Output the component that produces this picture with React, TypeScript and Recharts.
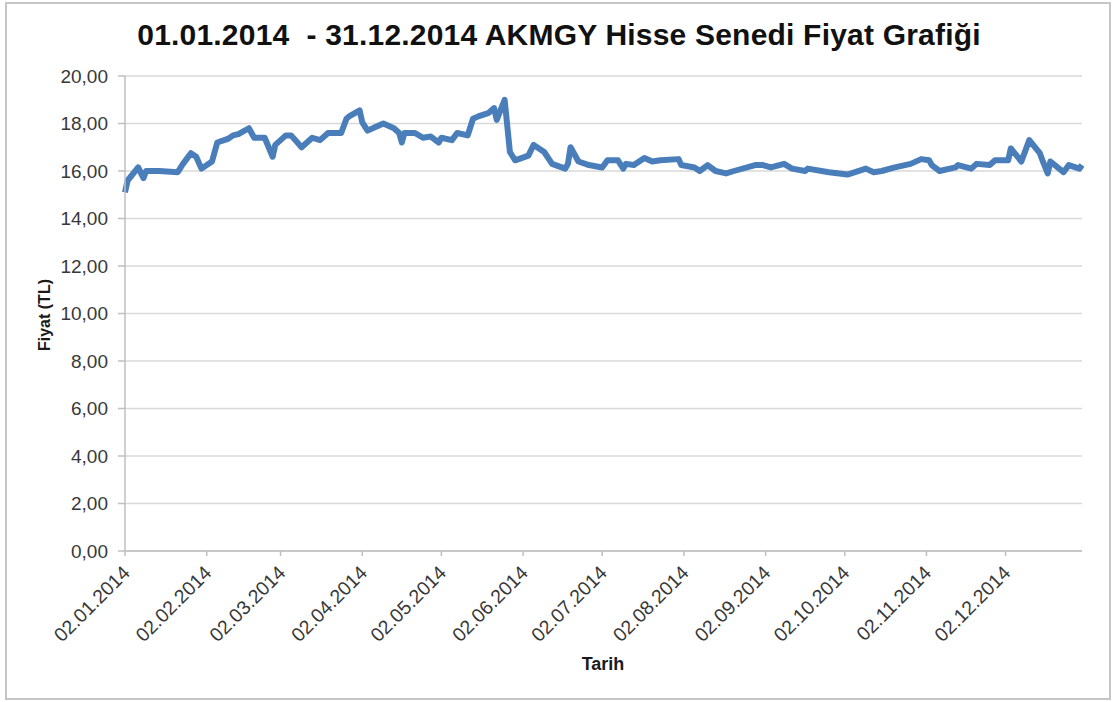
import { CartesianGrid, Line, LineChart, XAxis, YAxis } from "recharts";

// closing prices (dd.mm, 2014)
const dates = [
  "02.01", "03.01", "07.01", "09.01", "10.01", "15.01", "22.01", "24.01", "27.01", "29.01",
  "31.01", "04.02", "06.02", "10.02", "12.02", "14.02", "18.02", "20.02", "24.02", "27.02",
  "28.02", "04.03", "06.03", "10.03", "14.03", "17.03", "20.03", "25.03", "27.03", "28.03",
  "01.04", "02.04", "04.04", "07.04", "10.04", "14.04", "16.04", "17.04", "18.04", "22.04",
  "25.04", "28.04", "01.05", "02.05", "06.05", "08.05", "12.05", "14.05", "16.05", "20.05",
  "22.05", "23.05", "26.05", "28.05", "30.05", "04.06", "06.06", "10.06", "13.06", "18.06",
  "19.06", "20.06", "23.06", "27.06", "02.07", "04.07", "08.07", "10.07", "11.07", "14.07",
  "18.07", "21.07", "24.07", "31.07", "01.08", "06.08", "08.08", "11.08", "14.08", "18.08",
  "21.08", "29.08", "01.09", "04.09", "09.09", "12.09", "17.09", "18.09", "26.09", "03.10",
  "10.10", "13.10", "16.10", "21.10", "27.10", "31.10", "03.11", "04.11", "07.11", "13.11",
  "14.11", "19.11", "21.11", "26.11", "28.11", "03.12", "04.12", "08.12", "11.12", "15.12",
  "16.12", "18.12", "19.12", "24.12", "26.12", "30.12", "31.12",
];

const prices = [
  15.1, 15.6, 16.15, 15.7, 16.0, 16.0, 15.95, 16.3, 16.75, 16.6,
  16.1, 16.4, 17.2, 17.35, 17.5, 17.55, 17.8, 17.4, 17.4, 16.6,
  17.1, 17.5, 17.5, 17.0, 17.4, 17.3, 17.6, 17.6, 18.2, 18.3,
  18.55, 18.05, 17.7, 17.85, 18.0, 17.8, 17.6, 17.2, 17.6, 17.6,
  17.4, 17.45, 17.2, 17.4, 17.3, 17.6, 17.5, 18.2, 18.3, 18.45,
  18.65, 18.15, 19.0, 16.8, 16.45, 16.65, 17.1, 16.8, 16.3, 16.1,
  16.3, 17.0, 16.4, 16.25, 16.15, 16.45, 16.45, 16.1, 16.3, 16.25,
  16.55, 16.4, 16.45, 16.5, 16.25, 16.15, 16.0, 16.25, 16.0, 15.9,
  16.0, 16.25, 16.25, 16.15, 16.3, 16.1, 16.0, 16.1, 15.95, 15.85,
  16.1, 15.95, 16.0, 16.15, 16.3, 16.5, 16.45, 16.25, 16.0, 16.15,
  16.25, 16.1, 16.3, 16.25, 16.45, 16.45, 16.95, 16.4, 17.3, 16.75,
  16.45, 15.9, 16.4, 15.95, 16.25, 16.1, 16.25,
];

const tickDates = [
  "02.01", "02.02", "02.03", "02.04", "02.05", "02.06",
  "02.07", "02.08", "02.09", "02.10", "02.11", "02.12",
];

const yTicks = [0, 2, 4, 6, 8, 10, 12, 14, 16, 18, 20];

const DAY = 86400000;
const START = Date.UTC(2014, 0, 2);

const toDay = (s: string) => {
  const [d, m] = s.split(".").map(Number);
  return (Date.UTC(2014, m - 1, d) - START) / DAY;
};

const fromDay = (n: number) => {
  const dt = new Date(START + n * DAY);
  const dd = String(dt.getUTCDate()).padStart(2, "0");
  const mm = String(dt.getUTCMonth() + 1).padStart(2, "0");
  return `${dd}.${mm}.2014`;
};

const data = dates.map((d, i) => ({ day: toDay(d), price: prices[i] }));
const xTicks = tickDates.map(toDay);

const DateTick = ({ x, y, payload }: any) => (
  <g transform={`translate(${x - 1},${y + 9})`}>
    <text
      x={0}
      y={0}
      dy={10}
      textAnchor="end"
      transform="rotate(-45)"
      fill="#383838"
      fontSize={19.5}
      fontFamily="Liberation Sans, Arial, sans-serif"
    >
      {fromDay(payload.value)}
    </text>
  </g>
);

const App = () => {
  return (
    <div
      style={{
        position: "absolute",
        left: 0,
        top: 0,
        width: 1115,
        height: 702,
        background: "#fff",
        fontFamily: "Liberation Sans, Arial, sans-serif",
      }}
    >
      <div
        style={{
          position: "absolute",
          left: 5,
          top: 2,
          width: 1102,
          height: 694,
          border: "2px solid #c6c6c6",
        }}
      />
      <div
        style={{
          position: "absolute",
          left: 0,
          top: 18,
          width: 1118,
          textAlign: "center",
          fontSize: 30,
          fontWeight: "bold",
          color: "#111",
          letterSpacing: 0.2,
          whiteSpace: "pre",
        }}
      >
        {"01.01.2014  - 31.12.2014 AKMGY Hisse Senedi Fiyat Grafiği"}
      </div>
      <div
        style={{
          position: "absolute",
          left: 45 - 100,
          top: 315 - 10,
          width: 200,
          height: 20,
          lineHeight: "20px",
          textAlign: "center",
          transform: "rotate(-90deg)",
          fontSize: 16,
          fontWeight: "bold",
          color: "#1a1a1a",
        }}
      >
        Fiyat (TL)
      </div>
      <div
        style={{
          position: "absolute",
          left: 503,
          top: 654,
          width: 200,
          textAlign: "center",
          fontSize: 18,
          fontWeight: "bold",
          color: "#1a1a1a",
        }}
      >
        Tarih
      </div>
      <div style={{ position: "absolute", left: 0, top: 0 }}>
        <LineChart
          width={1115}
          height={702}
          data={data}
          margin={{ top: 76, right: 33, left: 0, bottom: 0 }}
        >
          <CartesianGrid vertical={false} stroke="#d9d9d9" strokeWidth={1.5} />
          <XAxis
            dataKey="day"
            type="number"
            domain={[0, 363]}
            ticks={xTicks}
            interval={0}
            height={151}
            tick={<DateTick />}
            tickSize={5}
            stroke="#bfbfbf"
            strokeWidth={1.5}
          />
          <YAxis
            domain={[0, 20]}
            ticks={yTicks}
            interval={0}
            width={125}
            tickSize={7}
            tickMargin={10}
            stroke="#bfbfbf"
            strokeWidth={1.5}
            tick={{ fill: "#383838", fontSize: 19 }}
            tickFormatter={(v: number) => v.toFixed(2).replace(".", ",")}
          />
          <Line
            dataKey="price"
            type="linear"
            stroke="#4a7ebb"
            strokeWidth={6}
            strokeLinejoin="round"
            dot={false}
            isAnimationActive={false}
          />
        </LineChart>
      </div>
    </div>
  );
};

export default App;
